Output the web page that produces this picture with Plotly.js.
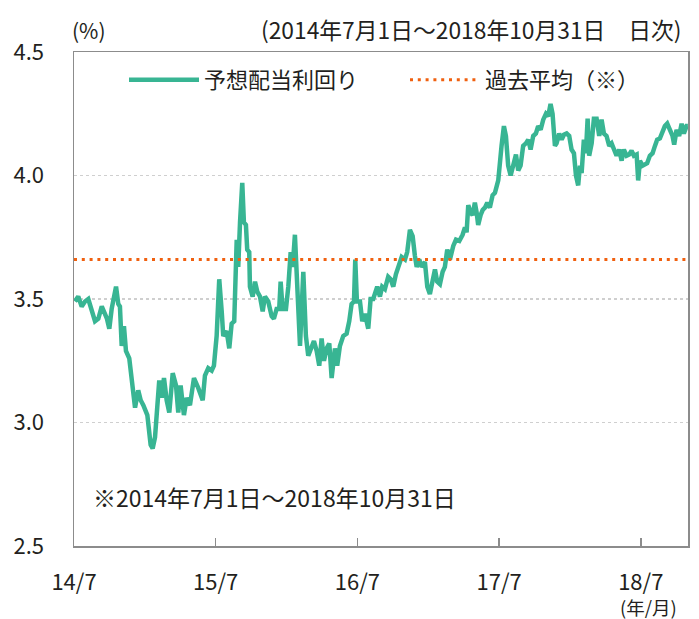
<!DOCTYPE html>
<html>
<head>
<meta charset="utf-8">
<script src="https://cdn.plot.ly/plotly-3.0.1.min.js"></script>
<style>html,body{margin:0;padding:0;background:#fff;}#chart{width:699px;height:619px;}</style>
</head>
<body>
<div id="chart"></div>
<script>
// x: months elapsed since 2014/7/1 ; y: forecast dividend yield (%)
const monthsX = [
0.08,0.36,0.65,0.93,1.21,1.50,1.78,2.06,2.35,2.62,2.79,2.99,3.19,3.56,3.75,3.89,4.04,4.23,4.40,4.68,
4.89,5.17,5.44,5.65,5.87,6.21,6.49,6.66,6.86,7.05,7.22,7.43,7.62,7.85,8.07,8.36,8.64,8.83,9.03,9.31,
9.54,9.82,10.16,10.52,10.90,11.09,11.37,11.66,11.85,12.08,12.30,12.51,12.64,12.93,13.15,13.35,13.57,13.78,13.91,14.06,
14.25,14.39,14.56,14.67,14.84,14.90,15.13,15.33,15.52,15.75,15.98,16.17,16.45,16.74,16.93,17.16,17.38,17.50,17.67,17.95,
18.15,18.35,18.52,18.71,18.86,18.99,19.14,19.42,19.64,19.84,20.13,20.32,20.55,20.77,20.97,21.17,21.40,21.62,21.82,22.10,
22.29,22.52,22.80,23.09,23.31,23.51,23.71,23.82,23.96,24.22,24.41,24.64,24.92,25.12,25.34,25.49,25.68,25.91,26.10,26.33,
26.61,26.82,27.04,27.26,27.46,27.75,28.03,28.22,28.45,28.68,28.87,29.02,29.24,29.44,29.72,29.92,30.14,30.37,30.57,30.76,
30.99,31.22,31.41,31.61,31.84,32.12,32.35,32.63,32.91,33.11,33.25,33.39,33.59,33.76,33.95,34.10,34.23,34.44,34.61,34.80,
35.00,35.22,35.45,35.65,35.93,36.21,36.41,36.58,36.77,36.98,37.20,37.43,37.62,37.82,38.04,38.27,38.47,38.67,38.89,39.12,
39.31,39.52,39.74,39.97,40.16,40.36,40.53,40.73,40.87,41.09,41.30,41.49,41.72,41.94,42.14,42.34,42.51,42.70,42.85,42.99,
43.18,43.35,43.50,43.63,43.84,44.03,44.26,44.48,44.68,44.88,45.10,45.33,45.53,45.72,45.95,46.17,46.38,46.57,46.80,47.02,
47.22,47.42,47.65,47.78,47.93,48.15,48.35,48.54,48.77,49.00,49.20,49.39,49.62,49.85,50.04,50.24,50.47,50.69,50.83,51.03,
51.25,51.46,51.65,51.88,51.99
];
const yieldY = [
3.49,3.51,3.47,3.49,3.50,3.45,3.41,3.42,3.47,3.44,3.42,3.38,3.46,3.55,3.48,3.47,3.31,3.39,3.29,3.26,
3.18,3.06,3.13,3.09,3.07,3.03,2.91,2.895,2.94,3.06,3.17,3.10,3.18,3.09,3.04,3.20,3.15,3.04,3.15,3.03,
3.10,3.07,3.18,3.14,3.09,3.19,3.22,3.21,3.23,3.35,3.58,3.45,3.35,3.37,3.30,3.40,3.41,3.74,3.63,3.81,
3.97,3.81,3.80,3.70,3.69,3.55,3.51,3.57,3.53,3.51,3.45,3.51,3.49,3.43,3.42,3.46,3.46,3.57,3.46,3.46,
3.55,3.69,3.63,3.76,3.62,3.46,3.31,3.61,3.35,3.27,3.30,3.33,3.29,3.23,3.34,3.25,3.30,3.32,3.18,3.30,
3.23,3.31,3.35,3.36,3.41,3.48,3.49,3.66,3.49,3.49,3.41,3.44,3.38,3.50,3.50,3.53,3.55,3.51,3.55,3.54,
3.59,3.58,3.55,3.60,3.63,3.67,3.66,3.69,3.78,3.755,3.675,3.63,3.66,3.63,3.65,3.55,3.52,3.58,3.62,3.57,
3.56,3.61,3.63,3.70,3.66,3.715,3.74,3.735,3.76,3.79,3.77,3.88,3.85,3.84,3.89,3.85,3.80,3.84,3.86,3.87,
3.89,3.87,3.92,3.93,3.98,4.12,4.20,4.16,4.04,4.00,4.05,4.085,4.02,4.04,4.12,4.13,4.145,4.105,4.16,4.17,
4.20,4.185,4.226,4.25,4.24,4.29,4.25,4.12,4.13,4.17,4.145,4.165,4.17,4.16,4.105,4.09,4.00,3.96,4.04,4.01,
4.145,4.09,4.23,4.08,4.13,4.23,4.23,4.16,4.226,4.17,4.16,4.12,4.13,4.105,4.08,4.105,4.06,4.105,4.08,4.085,
4.10,4.08,4.085,3.98,4.06,4.04,4.044,4.05,4.08,4.09,4.12,4.145,4.15,4.18,4.20,4.21,4.185,4.16,4.125,4.185,
4.16,4.21,4.17,4.20,4.20
];
const pastAverage = 3.66;
const rangeMonths = [0, 52];
const xTickVals = [0, 12, 24, 36, 48];
const xTickText = ["14/7", "15/7", "16/7", "17/7", "18/7"];
const yTickVals = [2.5, 3.0, 3.5, 4.0, 4.5];
const yTickText = ["2.5", "3.0", "3.5", "4.0", "4.5"];
const seriesName = "予想配当利回り";
const averageName = "過去平均（※）";

const FONT = '"Noto Sans CJK JP", "Noto Sans", sans-serif';
const TXT = '#231f20';
// plot area in pixels: left 74, right 688, top 52, bottom 546
const px = v => (v - 74) / 614;
const py = v => (546 - v) / 494;

const traces = [
  {
    x: monthsX, y: yieldY, type: 'scatter', mode: 'lines', name: seriesName,
    line: {color: '#38b593', width: 4.5, shape: 'linear'}
  },
  {
    x: rangeMonths, y: [pastAverage, pastAverage], type: 'scatter', mode: 'lines', name: averageName,
    line: {color: '#f0600f', width: 3, dash: '3px,4.8px'}
  }
];

const layout = {
  width: 699, height: 619,
  margin: {l: 74, r: 11, t: 52, b: 73, autoexpand: false},
  paper_bgcolor: '#ffffff', plot_bgcolor: '#ffffff',
  font: {family: FONT, size: 22, color: TXT},
  showlegend: true,
  legend: {
    orientation: 'h', xref: 'paper', yref: 'paper',
    x: px(124), y: py(80), xanchor: 'left', yanchor: 'middle',
    font: {family: FONT, size: 22, color: TXT},
    itemwidth: 70, entrywidth: 196, bgcolor: 'rgba(0,0,0,0)', borderwidth: 0
  },
  xaxis: {
    range: rangeMonths, tickvals: xTickVals, ticktext: xTickText,
    ticks: 'inside', ticklen: 8, tickwidth: 1.5, tickcolor: '#8c8c8c',
    showgrid: false, zeroline: false,
    showline: true, linecolor: '#8c8c8c', linewidth: 1.5, mirror: true,
    tickfont: {family: FONT, size: 22, color: TXT},
    ticklabelstandoff: 16, fixedrange: true
  },
  yaxis: {
    range: [2.5, 4.5], tickvals: yTickVals, ticktext: yTickText,
    ticks: '', showgrid: true, gridcolor: '#cfcfcf', griddash: 'dot', gridwidth: 1.2,
    zeroline: false, showline: true, linecolor: '#8c8c8c', linewidth: 1.5, mirror: true,
    tickfont: {family: FONT, size: 22, color: TXT},
    ticklabelstandoff: 24, fixedrange: true
  },
  annotations: [
    {text: '(%)', xref: 'paper', yref: 'paper', x: px(89), y: py(30),
     xanchor: 'center', yanchor: 'middle', showarrow: false, font: {family: FONT, size: 21, color: TXT}},
    {text: '(2014年7月1日～2018年10月31日　日次)', xref: 'paper', yref: 'paper', x: px(684), y: py(30),
     xanchor: 'right', yanchor: 'middle', showarrow: false, font: {family: FONT, size: 22.8, color: TXT}},
    {text: '※2014年7月1日～2018年10月31日', xref: 'paper', yref: 'paper', x: px(91), y: py(497),
     xanchor: 'left', yanchor: 'middle', showarrow: false, font: {family: FONT, size: 23, color: TXT}},
    {text: '(年/月)', xref: 'paper', yref: 'paper', x: px(648), y: py(607),
     xanchor: 'center', yanchor: 'middle', showarrow: false, font: {family: FONT, size: 18.5, color: TXT}}
  ]
};

Plotly.newPlot('chart', traces, layout, {staticPlot: true, displayModeBar: false});
</script>
</body>
</html>
